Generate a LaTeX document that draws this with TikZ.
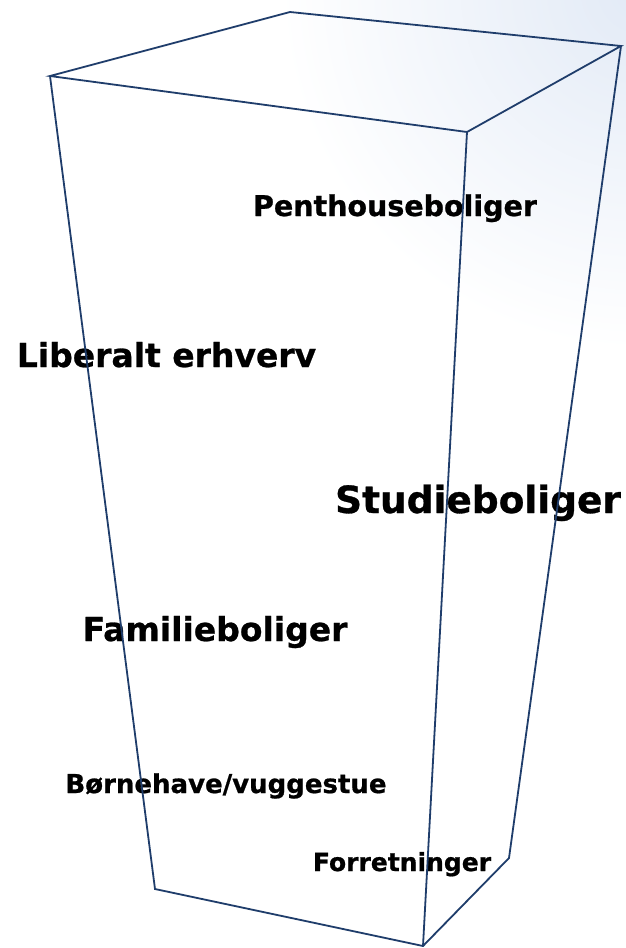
\documentclass[tikz,border=0pt]{standalone}
\usepackage{fontspec}
\setmainfont{DejaVu Sans}[BoldFeatures={FakeBold=0.8}]
\definecolor{edge}{RGB}{31,61,107}
\definecolor{bgblue}{RGB}{226,234,246}
\begin{document}
\begin{tikzpicture}[x=1pt,y=-1pt,
  edgeline/.style={draw=edge,line width=1.8pt,line join=miter},
  lbl/.style={anchor=base,inner sep=0pt,font=\bfseries,text=black}]
\useasboundingbox (0,0) rectangle (626,948);
\begin{scope}
  \clip (0,0) rectangle (626,948);
  \fill[white] (0,0) rectangle (626,948);
  \shade[inner color=bgblue,outer color=white] (640,-10) circle (360);
\end{scope}
% corners
\coordinate (tb) at (290,12);
\coordinate (tl) at (50,76);
\coordinate (tr) at (621,46);
\coordinate (tf) at (467,132);
\coordinate (bl) at (155,889);
\coordinate (bf) at (423,946);
\coordinate (br) at (509,858);
% labels
\node[lbl,font=\fontsize{28.5}{30}\selectfont\bfseries] (pent) at (395,216) {Penthouseboliger};
\node[lbl,font=\fontsize{33}{35}\selectfont\bfseries] (lib) at (166.5,367) {Liberalt erhverv};
\node[lbl,font=\fontsize{37.5}{39}\selectfont\bfseries] (stud) at (478,513) {Studieboliger};
\node[lbl,font=\fontsize{33}{35}\selectfont\bfseries] (fam) at (215,641) {Familieboliger};
\node[lbl,font=\fontsize{26}{28}\selectfont\bfseries] (born) at (226,793) {Børnehave/vuggestue};
\node[lbl,font=\fontsize{25}{27}\selectfont\bfseries] (forr) at (402,871) {Forretninger};
% box edges
\draw[edgeline] (tl) -- (tb) -- (tr) -- (tf) -- cycle;
\draw[edgeline] (tl) -- (bl) -- (bf) -- (br) -- (tr);
\draw[edgeline] (tf) -- (bf);
\end{tikzpicture}
\end{document}
